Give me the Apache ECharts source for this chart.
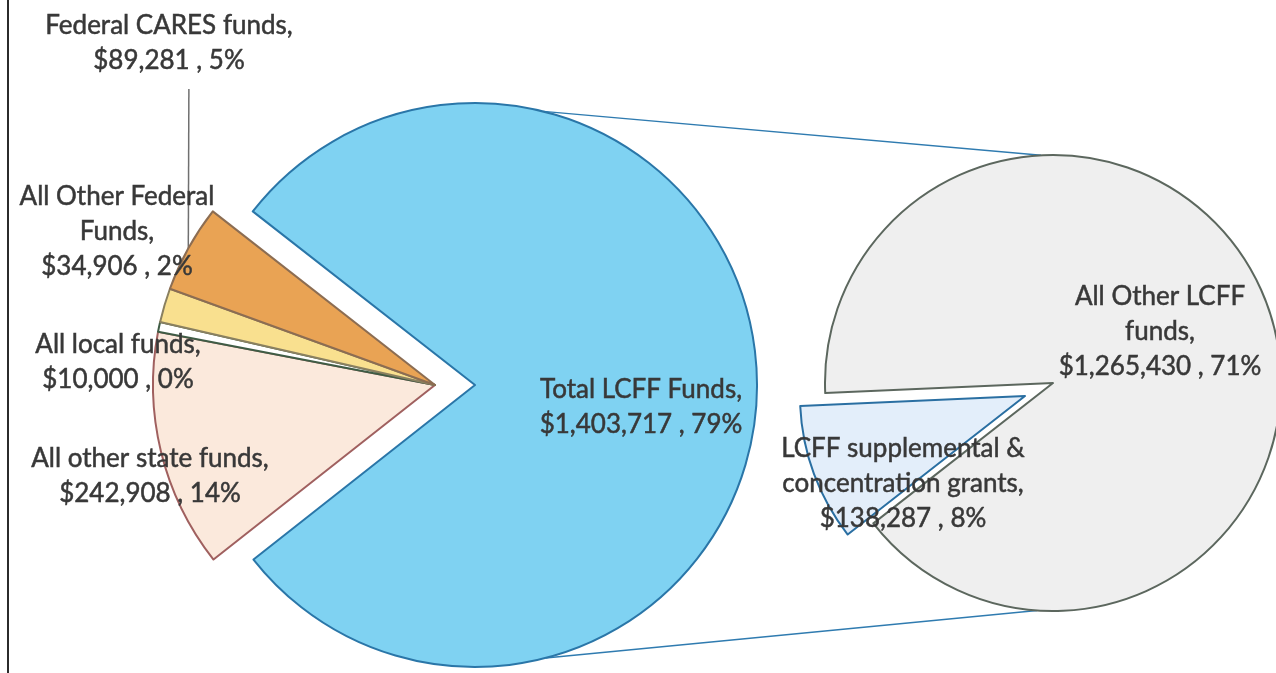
<!DOCTYPE html>
<html>
<head>
<meta charset="utf-8">
<script src="https://cdn.jsdelivr.net/npm/echarts@6/dist/echarts.min.js"></script>
<style>
html, body { margin: 0; padding: 0; background: #fff; }
#chart { width: 1276px; height: 673px; }
</style>
</head>
<body>
<div id="chart"></div>
<script>
// main pie, clockwise from the upper edge of the LCFF slice
var mainNames = ['Total LCFF Funds', 'All other state funds', 'All local funds', 'All Other Federal Funds', 'Federal CARES funds'];
var mainLabels = ['Total LCFF Funds,', 'All other state funds,', 'All local funds,', 'All Other Federal\nFunds,', 'Federal CARES funds,'];
var mainValues = [1403717, 242908, 10000, 34906, 89281];
var mainPct = ['79%', '14%', '0%', '2%', '5%'];

// split of the LCFF slice (second pie)
var lcffNames = ['LCFF supplemental & concentration grants', 'All Other LCFF funds'];
var lcffLabels = ['LCFF supplemental &\nconcentration grants,', 'All Other LCFF\nfunds,'];
var lcffValues = [138287, 1265430];
var lcffPct = ['8%', '71%'];

// styling / layout
var mainColors = ['#7fd2f2', '#fbe9dc', '#ffffff', '#f9e08f', '#e9a354'];
var mainBorders = ['#2a76a8', '#a0605f', '#3f5c45', '#8a8060', '#8c6d52'];
var lcffColors = ['#e3eefa', '#efefef'];
var lcffBorders = ['#2a6fa2', '#5c675e'];

var lcffCenter = [475, 385];
var otherCenter = [435, 385];   // the small slices are pulled out to the left
var mainRadius = 282;
var subCenter = [1053, 383];
var suppCenter = [1025, 396];   // pulled-out supplemental slice
var subRadius = 228;

var mainLabelPos = [[641, 407], [150, 476], [118, 362], [117, 232], [189, 43]];
var lcffLabelPos = [[903, 484], [1160, 332]];

var chart = echarts.init(document.getElementById('chart'));

var labelText = {
    fontFamily: 'Lato',
    fontSize: 26,
    lineHeight: 35,
    color: '#383838',
    textBorderColor: '#383838',
    textBorderWidth: 0.5
};

function money(v) {
    return '$' + v.toLocaleString('en-US');
}

function pieData(names, labels, values, pcts, colors, borders, visible) {
    return names.map(function (n, i) {
        var show = visible(i);
        return {
            name: n,
            value: values[i],
            itemStyle: show
                ? { color: colors[i], borderColor: borders[i], borderWidth: 2 }
                : { color: 'rgba(0,0,0,0)', borderWidth: 0 },
            label: show
                ? { show: true, formatter: labels[i] + '\n' + money(values[i]) + ' , ' + pcts[i] }
                : { show: false },
            labelLine: { show: false }
        };
    });
}

function placeAt(pos) {
    return function (params) {
        var p = pos[params.dataIndex];
        return { x: p[0], y: p[1], align: 'center', verticalAlign: 'middle' };
    };
}

var lcffSlice = pieData(mainNames, mainLabels, mainValues, mainPct, mainColors, mainBorders, function (i) { return i === 0; });
var otherSlices = pieData(mainNames, mainLabels, mainValues, mainPct, mainColors, mainBorders, function (i) { return i !== 0; });
// leader line for the CARES label; right/bottom padding moves its end point to where the reference has it
otherSlices[4].label.padding = [0, 40, 22, 0];
otherSlices[4].labelLine = { show: true, length: 4, length2: 0, lineStyle: { color: '#707070', width: 1.5 } };

var suppSlice = pieData(lcffNames, lcffLabels, lcffValues, lcffPct, lcffColors, lcffBorders, function (i) { return i === 0; });
var restSlice = pieData(lcffNames, lcffLabels, lcffValues, lcffPct, lcffColors, lcffBorders, function (i) { return i === 1; });

function onCircle(c, r, deg) {
    var a = deg * Math.PI / 180;
    return [c[0] + r * Math.cos(a), c[1] - r * Math.sin(a)];
}
var t1 = onCircle(lcffCenter, mainRadius, 76), t2 = onCircle(subCenter, subRadius, 93);
var b1 = onCircle(lcffCenter, mainRadius, -75.5), b2 = onCircle(subCenter, subRadius, -94);

var common = {
    type: 'pie',
    clockwise: true,
    avoidLabelOverlap: false,
    animation: false,
    emphasis: { disabled: true },
    label: Object.assign({ position: 'outside' }, labelText),
    labelLine: { show: false }
};

var option = {
    backgroundColor: '#ffffff',
    graphic: [
        { type: 'line', z: 1, shape: { x1: t1[0], y1: t1[1], x2: t2[0], y2: t2[1] }, style: { stroke: '#2f7bb0', lineWidth: 1.5 } },
        { type: 'line', z: 1, shape: { x1: b1[0], y1: b1[1], x2: b2[0], y2: b2[1] }, style: { stroke: '#2f7bb0', lineWidth: 1.5 } },
        { type: 'line', shape: { x1: 8, y1: 0, x2: 8, y2: 673 }, style: { stroke: '#2b2b2b', lineWidth: 2 } }
    ],
    series: [
        Object.assign({}, common, {
            name: 'LCFF',
            center: lcffCenter,
            radius: mainRadius,
            startAngle: 142,
            data: lcffSlice,
            labelLayout: placeAt(mainLabelPos)
        }),
        Object.assign({}, common, {
            name: 'Other',
            center: otherCenter,
            radius: mainRadius,
            startAngle: 142,
            data: otherSlices,
            labelLayout: placeAt(mainLabelPos)
        }),
        Object.assign({}, common, {
            name: 'Other LCFF',
            center: subCenter,
            radius: subRadius,
            startAngle: 218,
            data: restSlice,
            labelLayout: placeAt(lcffLabelPos)
        }),
        Object.assign({}, common, {
            name: 'Supplemental',
            center: suppCenter,
            radius: subRadius - 3,
            startAngle: 218,
            data: suppSlice,
            labelLayout: placeAt(lcffLabelPos)
        })
    ]
};

chart.setOption(option);
</script>
</body>
</html>
